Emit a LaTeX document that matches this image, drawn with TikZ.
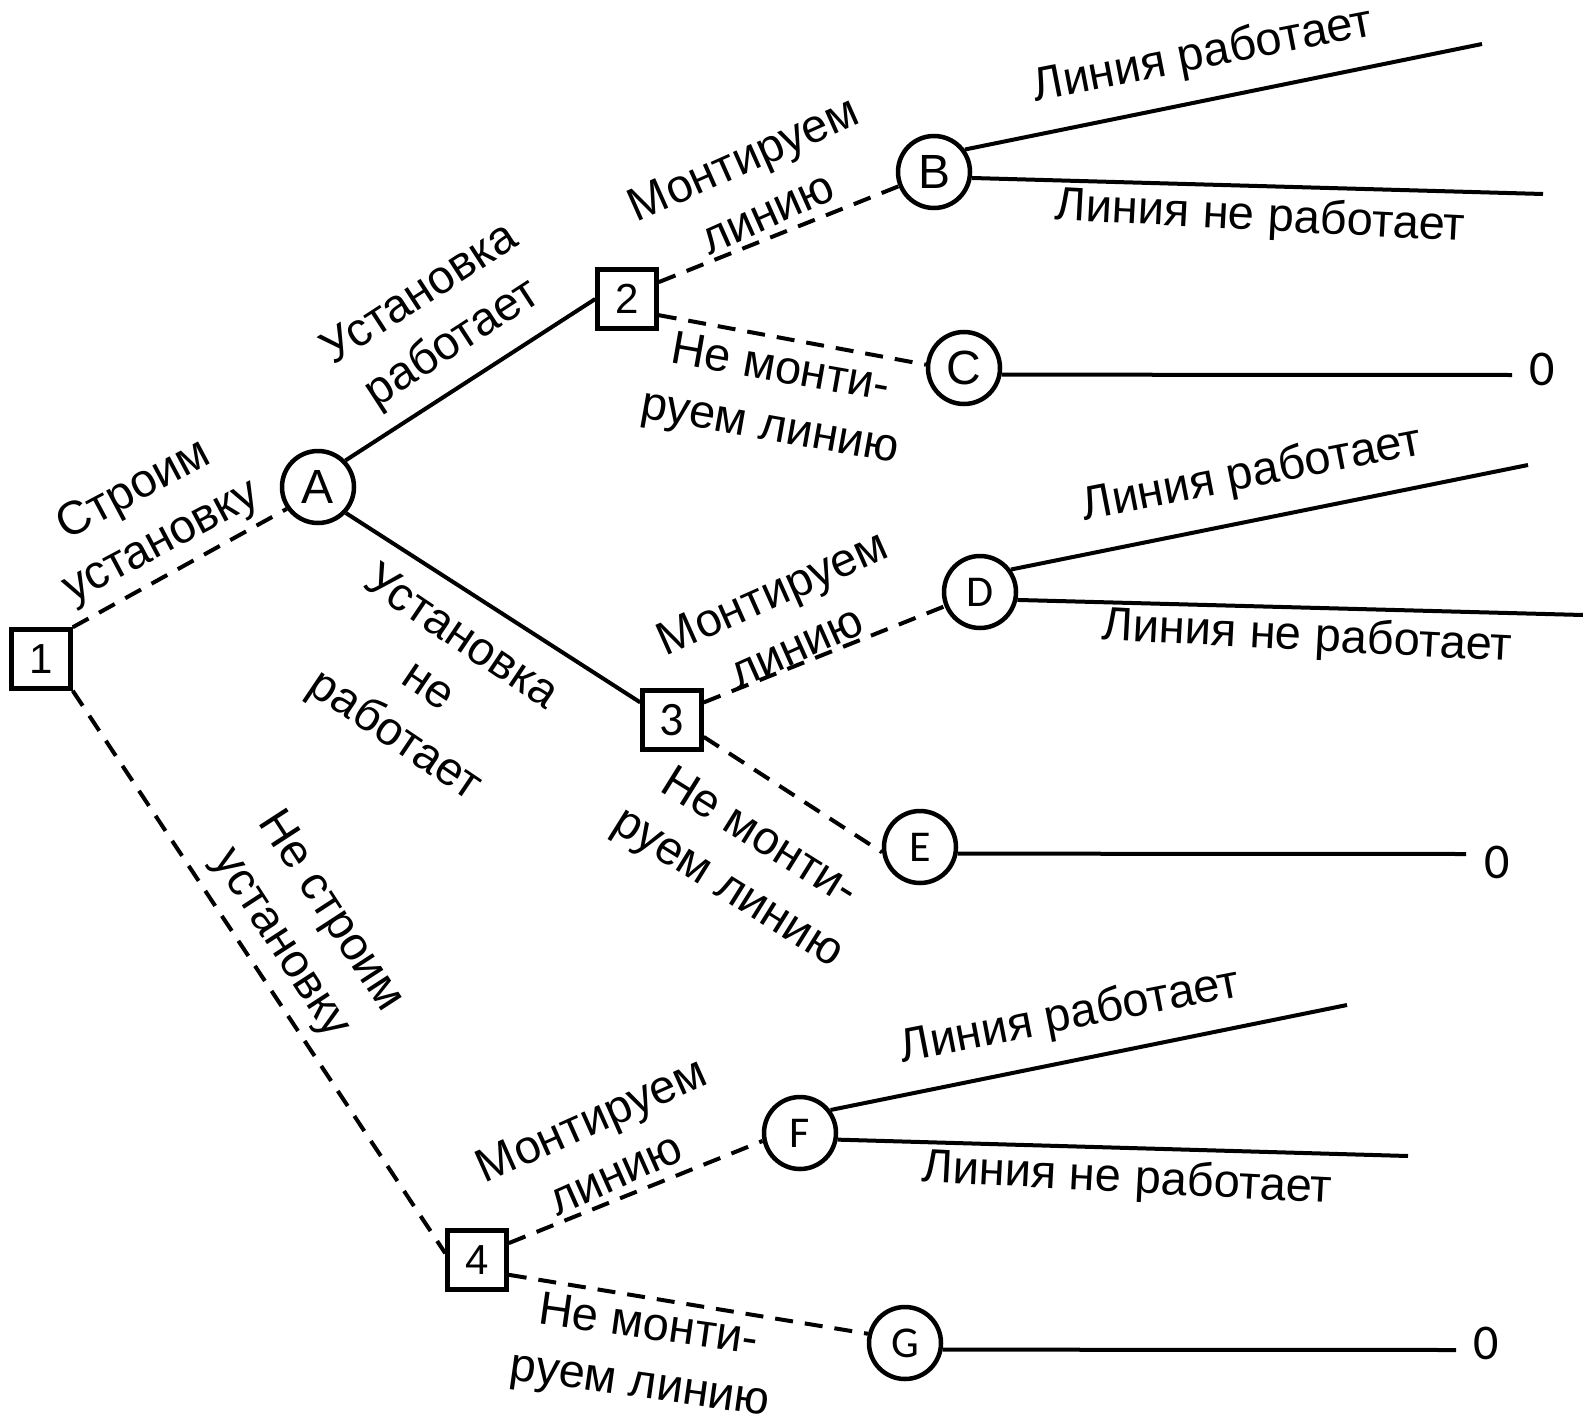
\documentclass[tikz,border=0pt]{standalone}
\usepackage{fontspec}
\setmainfont{Liberation Sans}
\newfontfamily\calfont{Carlito}
\begin{document}
\begin{tikzpicture}[x=1pt,y=-1pt,
  dec/.style={draw, line width=4.5pt, minimum size=59pt, inner sep=0pt, font=\fontsize{42}{50}\selectfont},
  chance/.style={circle, draw, line width=4.5pt, minimum size=72pt, inner sep=0pt, font=\fontsize{48}{56}\selectfont},
  calib/.style={font=\calfont\fontsize{44}{52}\selectfont},
  lbl/.style={align=center, inner sep=0pt, font=\fontsize{47}{59}\selectfont},
  zero/.style={inner sep=0pt, font=\calfont\fontsize{50}{60}\selectfont},
  solidline/.style={line width=4pt},
  dashline/.style={line width=4pt, dash pattern=on 18pt off 12pt}]
\useasboundingbox (0,0) rectangle (1583,1421);

% nodes
\node[dec] (n1) at (41,659) {1};
\node[chance] (A) at (318,487) {A};
\node[dec] (n2) at (627,299) {2};
\node[chance] (B) at (934,172) {B};
\node[chance] (C) at (964,368) {C};
\node[dec, font=\calfont\fontsize{48}{56}\selectfont] (n3) at (672,720) {3};
\node[chance, calib] (D) at (980,592) {D};
\node[chance, calib] (E) at (920,847) {E};
\node[dec] (n4) at (477,1260) {4};
\node[chance, calib] (F) at (800,1133) {F};
\node[chance, calib] (G) at (905,1343) {G};

% free ends
\coordinate (b1) at (1482,44);
\coordinate (b2) at (1543,194);
\coordinate (c0) at (1512,375);
\coordinate (d1) at (1528,465);
\coordinate (d2) at (1583,615);
\coordinate (e0) at (1466,854);
\coordinate (f1) at (1347,1005);
\coordinate (f2) at (1408,1156);
\coordinate (g0) at (1456,1350);

% zeros
\node[zero] (z1) at (1542,369) {0};
\node[zero] (z2) at (1497,862) {0};
\node[zero] (z3) at (1486,1343) {0};

% connectors
\draw[dashline] (n1.north east) -- (A.215);
\draw[dashline] (n1.south east) -- (n4.168);
\draw[solidline] (A.44) -- (n2.west);
\draw[solidline] (A.-43) -- (n3.151);
\draw[dashline] (n2.28) -- (B.202);
\draw[dashline] (n2.-27) -- (C.175);
\draw[dashline] (n3.29) -- (D.202);
\draw[dashline] (n3.-28) -- (E.188);
\draw[dashline] (n4.28) -- (F.192);
\draw[dashline] (n4.-25) -- (G.166);

\draw[solidline] (B.36) -- (b1);
\draw[solidline] (B.-9) -- (b2);
\draw[solidline] (C.-10) -- (c0);
\draw[solidline] (D.36) -- (d1);
\draw[solidline] (D.-12) -- (d2);
\draw[solidline] (E.-10) -- (e0);
\draw[solidline] (F.37) -- (f1);
\draw[solidline] (F.-10) -- (f2);
\draw[solidline] (G.-10) -- (g0);

% labels
\node[lbl, rotate=28] (l1) at (148,517) {Строим\\установку};
\node[lbl, rotate=33] (l2) at (437,320) {Установка\\работает};
\node[lbl, rotate=24] (l3) at (755,185) {Монтируем\\линию};
\node[lbl, rotate=-10] (l4) at (775,400) {Не монти-\\руем линию};
\node[lbl, rotate=-34] (l5) at (427,688) {Установка\\не\\работает};
\node[lbl, rotate=24] (l6) at (784,619) {Монтируем\\линию};
\node[lbl, rotate=-32] (l7) at (743,864) {Не монти-\\руем линию};
\node[lbl, rotate=-57] (l8) at (305,928) {Не строим\\установку};
\node[lbl, rotate=24] (l9) at (603,1146) {Монтируем\\линию};
\node[lbl, rotate=-8] (l10) at (644,1357) {Не монти-\\руем линию};
\node[lbl, rotate=11] (l11) at (1203,56) {Линия работает};
\node[lbl, rotate=-3] (l12) at (1260,218) {Линия не работает};
\node[lbl, rotate=11] (l13) at (1252,475) {Линия работает};
\node[lbl, rotate=-3] (l14) at (1307,638) {Линия не работает};
\node[lbl, rotate=11] (l15) at (1070,1017) {Линия работает};
\node[lbl, rotate=-3] (l16) at (1127,1180) {Линия не работает};
\end{tikzpicture}
\end{document}
